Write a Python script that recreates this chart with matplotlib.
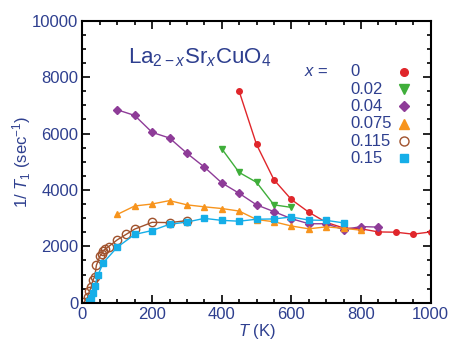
import matplotlib
matplotlib.use('Agg')
import matplotlib.pyplot as plt
import numpy as np

plt.rcParams['font.family'] = ['Liberation Sans', 'DejaVu Sans']
plt.rcParams['mathtext.fontset'] = 'custom'
plt.rcParams['mathtext.rm'] = 'Liberation Sans'
plt.rcParams['mathtext.it'] = 'Liberation Sans:italic'

# data: temperature (K) and 1/T1 (sec^-1) for each Sr content x
t_x0 = [450, 500, 550, 600, 650, 700, 750, 800, 850, 900, 950, 1000]
r_x0 = [7500, 5610, 4360, 3660, 3210, 2850, 2650, 2620, 2510, 2500, 2430, 2510]

t_x002 = [400, 450, 500, 550, 600]
r_x002 = [5460, 4620, 4270, 3470, 3380]

t_x004 = [100, 150, 200, 250, 300, 350, 400, 450, 500, 550, 600, 650, 700, 750, 800, 850]
r_x004 = [6840, 6640, 6040, 5840, 5300, 4810, 4250, 3880, 3470, 3230, 2980, 2800, 2800, 2590, 2700, 2680]

t_x0075 = [100, 150, 200, 250, 300, 350, 400, 450, 500, 550, 600, 650, 700, 750, 800]
r_x0075 = [3130, 3430, 3500, 3620, 3470, 3400, 3340, 3250, 2950, 2870, 2720, 2620, 2690, 2640, 2570]

t_x0115 = [5, 15, 20, 25, 30, 35, 40, 50, 55, 60, 65, 75, 100, 125, 150, 200, 250, 300]
r_x0115 = [30, 200, 400, 560, 800, 920, 1330, 1650, 1720, 1840, 1900, 1990, 2230, 2420, 2610, 2850, 2840, 2910]

t_x015 = [20, 25, 30, 35, 45, 60, 100, 150, 200, 250, 300, 350, 400, 450, 500, 550, 600, 650, 700, 750]
r_x015 = [60, 150, 330, 600, 1000, 1420, 1970, 2420, 2560, 2780, 2860, 2990, 2920, 2890, 2960, 2970, 3040, 2930, 2920, 2830]

labels = ['0', '0.02', '0.04', '0.075', '0.115', '0.15']

blue = '#2e3f8f'
# color, marker, marker size in plot, marker size in key, filled
series = [
    (t_x0, r_x0, '#e0262b', 'o', 4.0, 5.5, True),
    (t_x002, r_x002, '#3fae3a', 'v', 5.0, 6.5, True),
    (t_x004, r_x004, '#8e3c98', 'D', 3.6, 5.0, True),
    (t_x0075, r_x0075, '#f7941d', '^', 5.0, 6.5, True),
    (t_x0115, r_x0115, '#a0522d', 'o', 6.0, 6.5, False),
    (t_x015, r_x015, '#15aee8', 's', 5.0, 6.0, True),
]

fig = plt.figure(figsize=(4.49, 3.41), dpi=100)
ax = fig.add_axes([0.1837, 0.1123, 0.7753, 0.827])

for t, r, c, m, ms, _, filled in series:
    ax.plot(t, r, color=c, marker=m, ms=ms, lw=1.0, mec=c,
            mfc=c if filled else 'none', mew=1.0)

ax.set_xlim(0, 1000)
ax.set_ylim(0, 10000)
ax.set_xticks(np.arange(0, 1001, 200))
ax.set_yticks(np.arange(0, 10001, 2000))
ax.set_xticks(np.arange(0, 1001, 50), minor=True)
ax.set_yticks(np.arange(0, 10001, 500), minor=True)
ax.tick_params(which='both', direction='in', top=True, right=True,
               labelcolor=blue, labelsize=12, width=1.2)
ax.tick_params(which='major', length=6, pad=3)
ax.tick_params(which='minor', length=3)
for s in ax.spines.values():
    s.set_linewidth(1.5)

ax.set_xlabel('$T$ (K)', color=blue, fontsize=12, labelpad=0)
ax.set_ylabel('1/ $T_1$ (sec$^{-1}$)', color=blue, fontsize=12, labelpad=-1)

ax.text(0.13, 0.85, 'La$_{2\u2212x}$Sr$_x$CuO$_4$', transform=ax.transAxes,
        fontsize=16, color=blue, va='baseline', ha='left')

# legend drawn by hand: left-aligned numbers, markers on the right
ax.text(0.706, 0.819, '$x$ =', transform=ax.transAxes, fontsize=12,
        color=blue, ha='right', va='center')
for i, (lab, (t, r, c, m, ms, kms, filled)) in enumerate(zip(labels, series)):
    yy = 0.819 - i * 0.0614
    ax.text(0.769, yy, lab, transform=ax.transAxes, fontsize=12,
            color=blue, ha='left', va='center')
    ax.plot([0.924], [yy], transform=ax.transAxes, marker=m, ms=kms,
            color=c, mec=c, mfc=c if filled else 'none', ls='none',
            clip_on=False)

fig.savefig('out.png', dpi=100)
